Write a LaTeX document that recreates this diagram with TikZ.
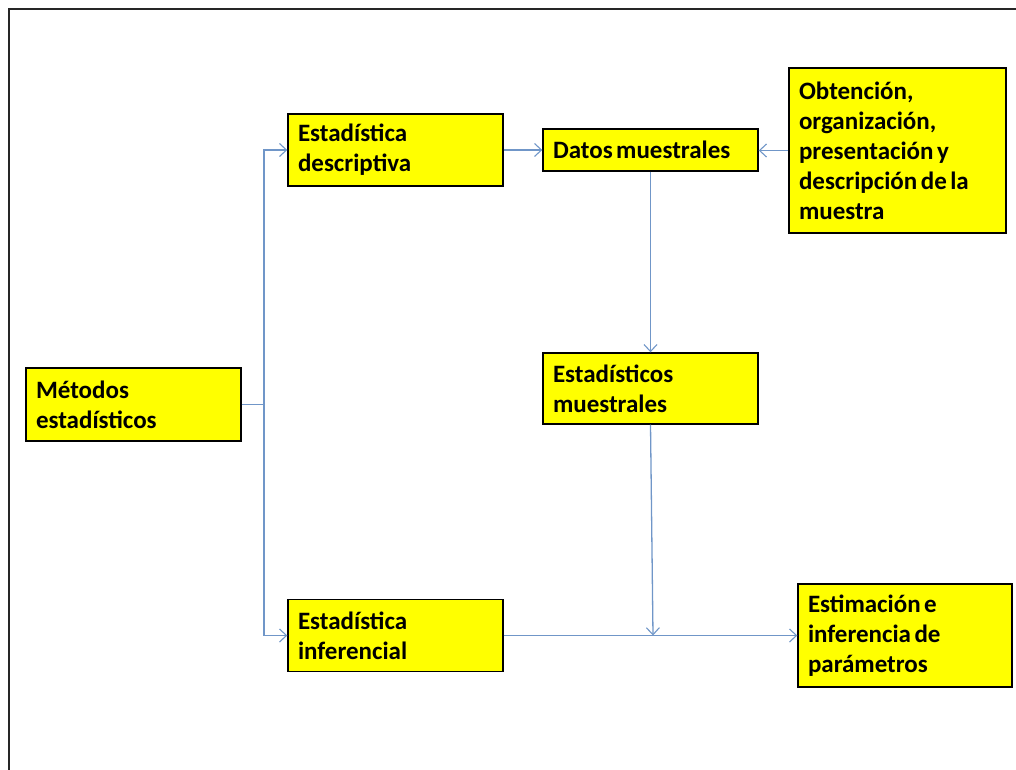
\documentclass[tikz,border=0pt]{standalone}
\usepackage{fontspec}
\setmainfont{Carlito}
\usetikzlibrary{arrows.meta}
\definecolor{conncol}{RGB}{112,150,200}
\definecolor{boxyellow}{RGB}{255,255,0}
\newcommand{\boxfont}{\fontsize{25}{30}\selectfont\bfseries}
\newcommand{\tightsp}{\spaceskip=0.14em\relax\xspaceskip=0.14em\relax}
\tikzset{
  box/.style={draw=black, line width=1.4pt, fill=boxyellow, rectangle,
    inner xsep=10pt, inner ysep=0pt, align=left, font=\boxfont,
    execute at begin node=\tightsp},
  conn/.style={draw=conncol, line width=1.3pt,
    -{Straight Barb[length=7pt,width=13pt,line width=1.1pt]}},
  plain/.style={draw=conncol, line width=1.3pt}
}
\begin{document}
\begin{tikzpicture}[x=1pt,y=-1pt]
\useasboundingbox (0,0) rectangle (1016,770);
% frame (top and left edges visible)
\draw[line width=2pt, draw=black!85] (1030,9) -- (9,9) -- (9,780);

\node[box, minimum width=215pt, minimum height=73pt, text width=195pt] (met) at (133.5,404.5) {Métodos\\estadísticos};
\node[box, minimum width=215pt, minimum height=72pt, text width=195pt] (desc) at (395.5,150) {Estadística\\descriptiva};
\node[box, minimum width=215pt, minimum height=72pt, text width=195pt] (inf) at (395.5,635.5) {Estadística\\inferencial};
\node[box, minimum width=215pt, minimum height=42pt, text width=195pt] (datos) at (650.5,150) {Datos muestrales};
\node[box, minimum width=215pt, minimum height=71pt, text width=195pt] (estm) at (650.5,388.5) {Estadísticos\\muestrales};
\node[box, minimum width=217pt, minimum height=165pt, text width=197pt] (obt) at (897.5,150.5) {Obtención,\\organización,\\presentación y\\descripción de la\\muestra};
\node[box, minimum width=214pt, minimum height=103pt, text width=194pt] (estim) at (905,635.5) {Estimación e\\inferencia de\\parámetros};

\coordinate (split) at (264,404.5);
\coordinate (join) at (653,635.5);

\draw[plain] (met.east) -- (split);
\draw[conn] (split) |- (desc.west);
\draw[conn] (split) |- (inf.west);
\draw[conn] (desc.east) -- (datos.west);
\draw[conn] (obt.west) -- (datos.east |- obt.west);
\draw[conn] (datos.south) -- (estm.north);
\draw[conn] (estm.south) -- (join);
\draw[conn] (inf.east) -- (estim.west);
\end{tikzpicture}
\end{document}
